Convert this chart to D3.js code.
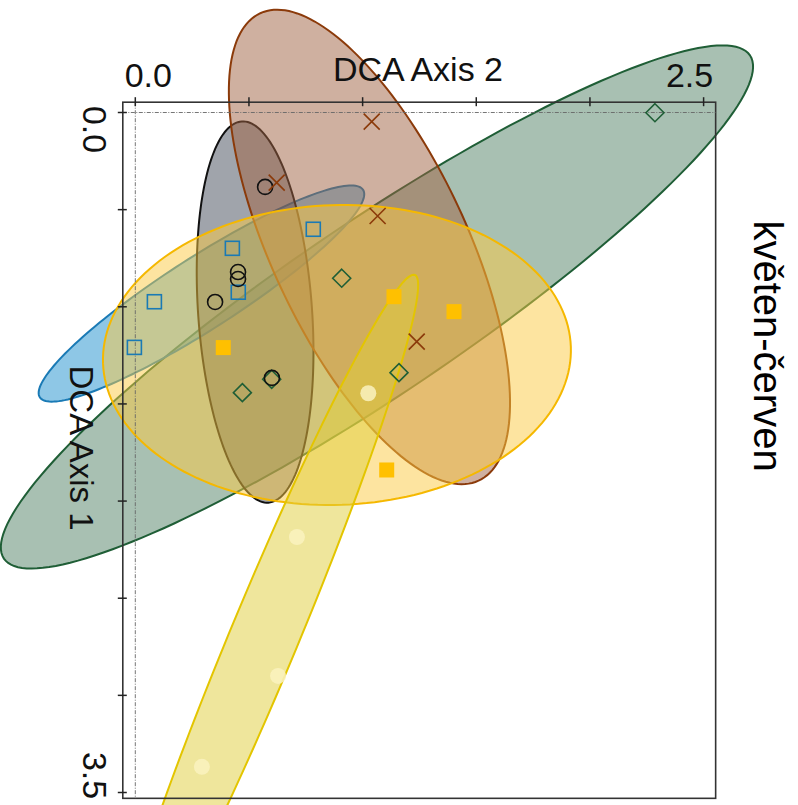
<!DOCTYPE html>
<html><head><meta charset="utf-8">
<script src="https://cdn.jsdelivr.net/npm/d3@7"></script>
<style>body{margin:0;background:#fff}svg{display:block}</style>
</head><body>
<script>
// ---- data (DCA Axis 1, DCA Axis 2) ----
const title = "květen-červen";
const axis1Title = "DCA Axis 1";
const axis2Title = "DCA Axis 2";
const axis1Ticks = [0, 0.5, 1, 1.5, 2, 2.5, 3, 3.5];
const axis2Ticks = [0, 0.5, 1, 1.5, 2, 2.5];
const axis1LabelVals = [0, 3.5];
const axis1Labels = ["0.0", "3.5"];
const axis2LabelVals = [0, 2.5];
const axis2Labels = ["0.0", "2.5"];
const axis1Limits = [-0.053, 3.53];
const axis2Limits = [-0.055, 2.553];

// points: [axis1, axis2]
const greenDiamonds = [[0.001, 2.286], [0.853, 0.908], [1.339, 1.160], [1.442, 0.471], [1.373, 0.600]];
const blueSquares   = [[0.601, 0.783], [0.699, 0.427], [0.925, 0.453], [0.974, 0.084], [1.209, -0.004]];
const blackCircles  = [[0.383, 0.571], [0.821, 0.452], [0.857, 0.452], [0.975, 0.351], [1.366, 0.601]];
const brownCrosses  = [[0.047, 1.040], [0.361, 0.622], [0.533, 1.066], [1.179, 1.238]];
const orangeSquares = [[0.948, 1.138], [1.025, 1.402], [1.210, 0.387], [1.840, 1.106]];
const yellowCircles = [[1.445, 1.025], [2.185, 0.711], [2.900, 0.628], [3.368, 0.293]];

// ellipses: centre [axis1, axis2], conjugate half-axes [axis1, axis2]
const ellipseGroups  = ["green", "blue", "black", "brown", "orange", "yellow"];
const ellipseCentres = [[1.001, 1.063], [0.932, 0.291], [1.027, 0.527], [0.692, 1.030], [1.248, 0.887], [2.689, 0.571]];
const ellipseAxisU   = [[-1.295, 1.641], [-0.534, 0.711], [0.981, 0.0586], [1.203, 0.480], [-0.042, 1.029], [1.853, -0.659]];
const ellipseAxisV   = [[0.368, 0.212], [0.156, 0.0856], [0.0205, -0.250], [0.209, -0.390], [0.771, 0.023], [-0.0673, -0.138]];
const ellipseFill    = ["#518165", "#1d8fcd", "#414957", "#9f6141", "#fbc941", "#dfcd39"];
const ellipseStroke  = ["#1f5e36", "#1a7ab5", "#111111", "#8b3a0a", "#f5b800", "#e3c500"];

// ---- drawing ----
const W = 798, H = 805;
const svg = d3.select("body").append("svg").attr("width", W).attr("height", H);
const x = d3.scaleLinear().domain([0, 2.5]).range([135.3, 703.6]);   // DCA Axis 2 (horizontal)
const y = d3.scaleLinear().domain([0, 3.5]).range([112.5, 792.5]);   // DCA Axis 1 (vertical)
const font = "'Liberation Sans', Arial, sans-serif";

const line = d3.line().x(d => x(d[1])).y(d => y(d[0])).curve(d3.curveLinearClosed);
ellipseGroups.forEach((g, i) => {
  const c = ellipseCentres[i], u = ellipseAxisU[i], v = ellipseAxisV[i];
  const pts = d3.range(180).map(k => {
    const t = k / 180 * 2 * Math.PI;
    return [c[0] + u[0] * Math.cos(t) + v[0] * Math.sin(t), c[1] + u[1] * Math.cos(t) + v[1] * Math.sin(t)];
  });
  svg.append("path").attr("d", line(pts))
    .attr("fill", ellipseFill[i]).attr("fill-opacity", 0.5)
    .attr("stroke", ellipseStroke[i]).attr("stroke-width", 2);
});

// frame
const bx0 = x(axis2Limits[0]), bx1 = x(axis2Limits[1]), by0 = y(axis1Limits[0]), by1 = y(axis1Limits[1]);
svg.append("rect").attr("x", bx0).attr("y", by0).attr("width", bx1 - bx0).attr("height", by1 - by0)
  .attr("fill", "none").attr("stroke", "#333").attr("stroke-width", 1.6);
// zero lines
svg.append("line").attr("x1", bx0).attr("x2", bx1).attr("y1", y(0)).attr("y2", y(0))
  .attr("stroke", "#666").attr("stroke-width", 0.9).attr("stroke-dasharray", "4,1.5,1,1.5");
svg.append("line").attr("y1", by0).attr("y2", by1).attr("x1", x(0)).attr("x2", x(0))
  .attr("stroke", "#666").attr("stroke-width", 0.9).attr("stroke-dasharray", "4,1.5,1,1.5");
// ticks
svg.selectAll(".t2").data(axis2Ticks).join("line")
  .attr("x1", d => x(d)).attr("x2", d => x(d)).attr("y1", by0 - 5).attr("y2", by0 + 4)
  .attr("stroke", "#222").attr("stroke-width", 1.5);
svg.selectAll(".t1").data(axis1Ticks).join("line")
  .attr("y1", d => y(d)).attr("y2", d => y(d)).attr("x1", bx0 - 5).attr("x2", bx0 + 4)
  .attr("stroke", "#222").attr("stroke-width", 1.5);

// tick labels
svg.selectAll(".l2").data(axis2LabelVals).join("text")
  .attr("x", (d, i) => x(d) + (i === 0 ? 13 : -14)).attr("y", 87)
  .attr("text-anchor", "middle").attr("font-family", font).attr("font-size", 34)
  .attr("fill", "#111").text((d, i) => axis2Labels[i]);
svg.selectAll(".l1").data(axis1LabelVals).join("text")
  .attr("transform", (d, i) => `translate(83,${y(d) + (i === 0 ? 17 : -17)}) rotate(90)`)
  .attr("text-anchor", "middle").attr("font-family", font).attr("font-size", 34)
  .attr("fill", "#111").text((d, i) => axis1Labels[i]);

// axis titles
svg.append("text").attr("x", 418).attr("y", 81).attr("text-anchor", "middle")
  .attr("font-family", font).attr("font-size", 34).attr("fill", "#111").text(axis2Title);
svg.append("text").attr("transform", "translate(70,448) rotate(90)").attr("text-anchor", "middle")
  .attr("font-family", font).attr("font-size", 33).attr("fill", "#111").text(axis1Title);
svg.append("text").attr("transform", "translate(754,346) rotate(90)").attr("text-anchor", "middle")
  .attr("font-family", font).attr("font-size", 40).attr("fill", "#000").text(title);

// points
const P = d => [x(d[1]), y(d[0])];
svg.selectAll(".pc").data(yellowCircles).join("circle")
  .attr("cx", d => P(d)[0]).attr("cy", d => P(d)[1]).attr("r", 8).attr("fill", "#faf2bf").attr("fill-opacity", 0.85);
svg.selectAll(".gd").data(greenDiamonds).join("path")
  .attr("d", d => { const [px, py] = P(d); return `M${px},${py - 9}L${px + 9},${py}L${px},${py + 9}L${px - 9},${py}Z`; })
  .attr("fill", "none").attr("stroke", "#1f5e36").attr("stroke-width", 1.6);
svg.selectAll(".bs").data(blueSquares).join("rect")
  .attr("x", d => P(d)[0] - 7).attr("y", d => P(d)[1] - 7).attr("width", 14).attr("height", 14)
  .attr("fill", "none").attr("stroke", "#1a7ab5").attr("stroke-width", 1.6);
svg.selectAll(".bc").data(blackCircles).join("circle")
  .attr("cx", d => P(d)[0]).attr("cy", d => P(d)[1]).attr("r", 7.5)
  .attr("fill", "none").attr("stroke", "#111").attr("stroke-width", 1.6);
svg.selectAll(".bx").data(brownCrosses).join("path")
  .attr("d", d => { const [px, py] = P(d); return `M${px - 8},${py - 8}L${px + 8},${py + 8}M${px - 8},${py + 8}L${px + 8},${py - 8}`; })
  .attr("fill", "none").attr("stroke", "#8b3a0a").attr("stroke-width", 1.6);
svg.selectAll(".os").data(orangeSquares).join("rect")
  .attr("x", d => P(d)[0] - 7.5).attr("y", d => P(d)[1] - 7.5).attr("width", 15).attr("height", 15)
  .attr("fill", "#ffc000");
</script>
</body></html>
